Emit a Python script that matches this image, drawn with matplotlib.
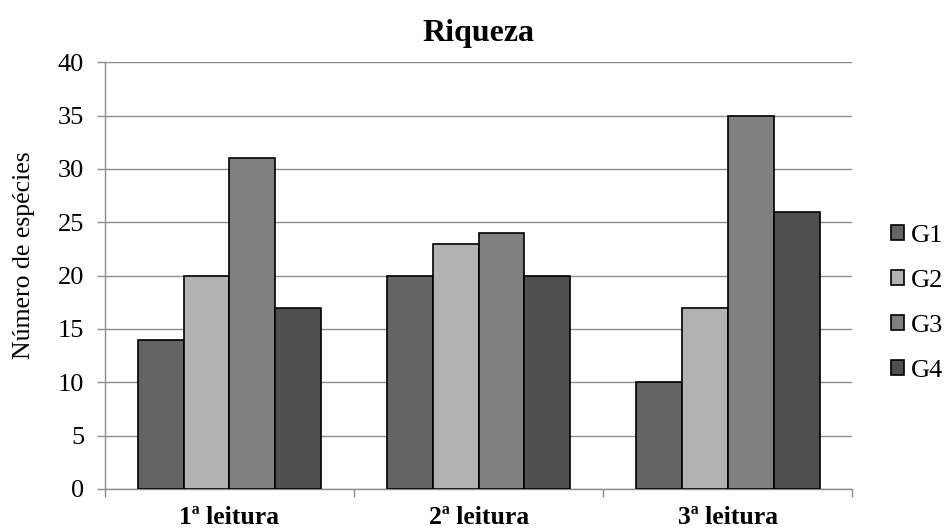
import matplotlib
matplotlib.use("Agg")
import matplotlib.pyplot as plt
import numpy as np

categories = ["1ª leitura", "2ª leitura", "3ª leitura"]
series_names = ["G1", "G2", "G3", "G4"]
g1 = [14, 20, 10]
g2 = [20, 23, 17]
g3 = [31, 24, 35]
g4 = [17, 20, 26]
series_values = [g1, g2, g3, g4]
colors = ["#646464", "#b2b2b2", "#808080", "#4f4f4f"]

plt.rcParams["font.family"] = ["Liberation Serif", "DejaVu Serif"]

fig = plt.figure(figsize=(9.45, 5.32), dpi=100)
ax = fig.add_axes([0.111, 0.081, 0.791, 0.802])

x = np.arange(len(categories))
width = 0.184
offsets = (np.arange(len(series_names)) - 1.5) * width
for vals, name, col, off in zip(series_values, series_names, colors, offsets):
    ax.bar(x + off, vals, width, color=col, edgecolor="black", linewidth=1.2,
           label=name, zorder=3)

ax.set_xlim(-0.5, len(categories) - 0.5)
ax.set_ylim(0, 40)
ax.set_yticks(np.arange(0, 41, 5))
ax.yaxis.grid(True, color="#8c8c8c", linewidth=1.0, zorder=0)
ax.set_axisbelow(True)

# Category labels centred, ticks at category boundaries
ax.set_xticks(x)
ax.set_xticklabels(categories, fontsize=18.5, fontweight="bold")
ax.tick_params(axis="x", which="major", length=0, pad=12.5)
ax.set_xticks(np.arange(-0.5, len(categories), 1.0), minor=True)
ax.tick_params(axis="x", which="minor", length=6, color="#8c8c8c", width=1.0)
ax.tick_params(axis="y", length=6, color="#8c8c8c", width=1.0, labelsize=19, pad=9)

for side in ["top", "right"]:
    ax.spines[side].set_visible(False)
for side in ["left", "bottom"]:
    ax.spines[side].set_color("#8c8c8c")
    ax.spines[side].set_linewidth(1.0)

ax.set_ylabel("Número de espécies", fontsize=18.5)
ax.yaxis.set_label_coords(-0.094, 0.547)
ax.set_title("Riqueza", fontsize=23, fontweight="bold", pad=15)

leg = ax.legend(loc="center left", bbox_to_anchor=(1.037, 0.435), frameon=False,
                fontsize=19, handlelength=0.5, handleheight=0.5,
                handletextpad=0.25, labelspacing=0.87, borderaxespad=0)
for h in leg.legend_handles:
    h.set_edgecolor("black")
    h.set_linewidth(1.2)

fig.savefig("out.png", dpi=100)
